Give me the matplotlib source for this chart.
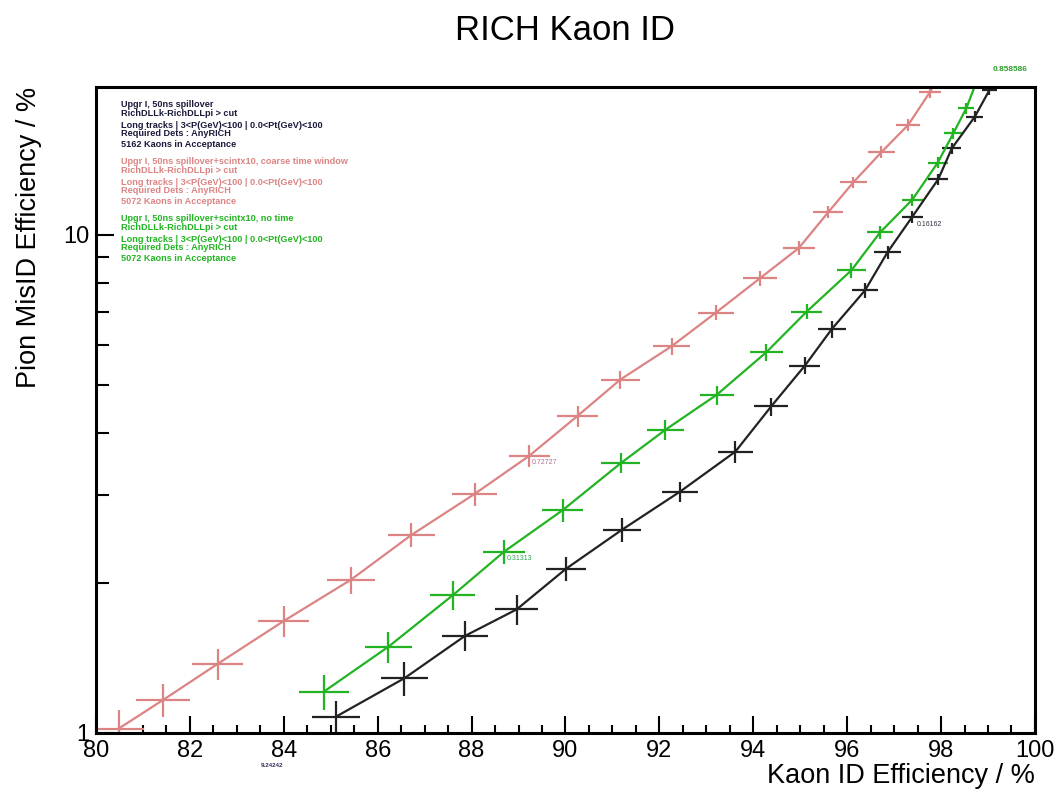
"""RICH Kaon ID: pion mis-ID vs kaon ID efficiency for three upgrade configurations."""

import matplotlib
matplotlib.use("Agg")
import matplotlib.pyplot as plt
from matplotlib.ticker import FixedLocator, FixedFormatter, MultipleLocator, NullFormatter

# black: Upgr I, 50ns spillover
black_x = [85.11, 86.57, 87.86, 88.96, 90.01, 91.20, 92.44, 93.62, 94.38, 95.10,
           95.67, 96.38, 96.86, 97.39, 97.94, 98.23, 98.72, 99.03, 99.25]
black_y = [1.078, 1.288, 1.566, 1.77, 2.135, 2.556, 3.05, 3.67, 4.52, 5.46,
           6.46, 7.73, 9.22, 10.87, 12.92, 14.9, 17.25, 19.5, 22.0]
black_xerr = [0.51, 0.50, 0.48, 0.46, 0.43, 0.40, 0.39, 0.37, 0.355, 0.33,
              0.30, 0.28, 0.28, 0.23, 0.21, 0.20, 0.18, 0.16, 0.15]
black_yerr = [0.082, 0.10, 0.108, 0.12, 0.12, 0.14, 0.14, 0.19, 0.19, 0.21,
              0.25, 0.26, 0.28, 0.30, 0.34, 0.38, 0.42, 0.46, 0.5]

# pink: spillover + scintx10, coarse time window
pink_x = [80.48, 81.43, 82.59, 84.00, 85.43, 86.72, 88.07, 89.23, 90.26, 91.17,
          92.26, 93.20, 94.14, 94.97, 95.60, 96.13, 96.73, 97.30, 97.76, 98.15]
pink_y = [1.02, 1.165, 1.376, 1.678, 2.03, 2.497, 3.02, 3.60, 4.33, 5.12,
          5.97, 6.97, 8.17, 9.40, 11.1, 12.73, 14.64, 16.6, 19.3, 22.5]
pink_xerr = [0.55, 0.57, 0.55, 0.54, 0.51, 0.50, 0.48, 0.44, 0.44, 0.42,
             0.40, 0.38, 0.355, 0.34, 0.32, 0.29, 0.28, 0.26, 0.24, 0.22]
pink_yerr = [0.09, 0.09, 0.10, 0.117, 0.126, 0.14, 0.16, 0.18, 0.21, 0.21,
             0.23, 0.24, 0.28, 0.30, 0.32, 0.34, 0.40, 0.46, 0.54, 0.6]

# green: spillover + scintx10, no time
green_x = [84.85, 86.23, 87.60, 88.69, 89.94, 91.18, 92.13, 93.22, 94.28, 95.14,
           96.09, 96.70, 97.39, 97.93, 98.26, 98.54, 98.90]
green_y = [1.21, 1.49, 1.89, 2.31, 2.80, 3.48, 4.06, 4.77, 5.81, 7.01,
           8.48, 10.1, 11.76, 13.95, 15.96, 17.95, 22.0]
green_xerr = [0.53, 0.50, 0.48, 0.45, 0.43, 0.415, 0.39, 0.36, 0.35, 0.33,
              0.31, 0.27, 0.23, 0.21, 0.19, 0.17, 0.15]
green_yerr = [0.097, 0.107, 0.125, 0.13, 0.15, 0.16, 0.19, 0.21, 0.23, 0.25,
              0.28, 0.30, 0.33, 0.37, 0.41, 0.45, 0.5]

BLACK = "#222222"
PINK = "#dc8484"
GREEN = "#22b422"

black_text = ["Upgr I, 50ns spillover",
              "RichDLLk-RichDLLpi > cut",
              "Long tracks | 3<P(GeV)<100 | 0.0<Pt(GeV)<100",
              "Required Dets : AnyRICH",
              "5162 Kaons in Acceptance"]
pink_text = ["Upgr I, 50ns spillover+scintx10, coarse time window",
             "RichDLLk-RichDLLpi > cut",
             "Long tracks | 3<P(GeV)<100 | 0.0<Pt(GeV)<100",
             "Required Dets : AnyRICH",
             "5072 Kaons in Acceptance"]
green_text = ["Upgr I, 50ns spillover+scintx10, no time",
              "RichDLLk-RichDLLpi > cut",
              "Long tracks | 3<P(GeV)<100 | 0.0<Pt(GeV)<100",
              "Required Dets : AnyRICH",
              "5072 Kaons in Acceptance"]

plt.rcParams["font.family"] = ["Liberation Sans", "DejaVu Sans"]

fig = plt.figure(figsize=(10.55, 7.89), dpi=100)
ax = fig.add_axes([0.091, 0.071, 0.890, 0.819])

for xs, ys, xe, ye, col in [(pink_x, pink_y, pink_xerr, pink_yerr, PINK),
                            (green_x, green_y, green_xerr, green_yerr, GREEN),
                            (black_x, black_y, black_xerr, black_yerr, BLACK)]:
    ax.errorbar(xs, ys, xerr=xe, yerr=ye, color=col, lw=1.6, elinewidth=1.6,
                capsize=0, fmt="-")

ax.set_yscale("log")
ax.set_xlim(80, 100)
ax.set_ylim(1, 19.8)

ax.xaxis.set_major_locator(MultipleLocator(2))
ax.xaxis.set_minor_locator(MultipleLocator(0.5))
ax.yaxis.set_major_locator(FixedLocator([1, 10]))
ax.yaxis.set_minor_locator(FixedLocator([2, 3, 4, 5, 6, 7, 8, 9]))
ax.yaxis.set_major_formatter(FixedFormatter(["1", "10"]))
ax.yaxis.set_minor_formatter(NullFormatter())
ax.tick_params(which="both", direction="in", top=False, right=False,
               labelsize=17, width=1.5, colors="black")
ax.tick_params(which="major", length=12, pad=5)
ax.tick_params(which="minor", length=6)
ax.tick_params(axis="y", which="major", length=13)
ax.tick_params(axis="y", which="minor", length=9)
for sp in ax.spines.values():
    sp.set_linewidth(2.2)

ax.set_xlabel("Kaon ID Efficiency / %", fontsize=19.5, loc="right", labelpad=1)
ax.set_ylabel("Pion MisID Efficiency / %", fontsize=19.5, loc="top", labelpad=15)
ax.set_title("RICH Kaon ID", fontsize=25, pad=34)

# legend text blocks
y0 = 0.972
offs = [0, 0.014, 0.0325, 0.045, 0.062]
for block, col in [(black_text, "#1a1a3a"), (pink_text, PINK), (green_text, GREEN)]:
    for line, off in zip(block, offs):
        ax.text(0.027, y0 - off, line, transform=ax.transAxes, fontsize=6.6,
                fontweight="bold", color=col, va="center", ha="left")
    y0 -= 0.088

# small cut-value labels
ax.annotate("0.72727", (pink_x[7], pink_y[7]), xytext=(2, -5), textcoords="offset points",
            fontsize=5, color="#b07090", va="center")
ax.annotate("0.31313", (green_x[3], green_y[3]), xytext=(2, -5), textcoords="offset points",
            fontsize=5, color="#30a050", va="center")
ax.annotate("0.16162", (black_x[13], black_y[13]), xytext=(3, -6), textcoords="offset points",
            fontsize=5, color="#303040", va="center")
ax.text(0.955, 1.027, "0.858586", transform=ax.transAxes, fontsize=6,
        color="#30a030", fontweight="bold", va="center")
ax.text(0.175, -0.05, "9.24242", transform=ax.transAxes, fontsize=4.5,
        color="#303060", fontweight="bold", va="center")

fig.savefig("out.png", dpi=100)
